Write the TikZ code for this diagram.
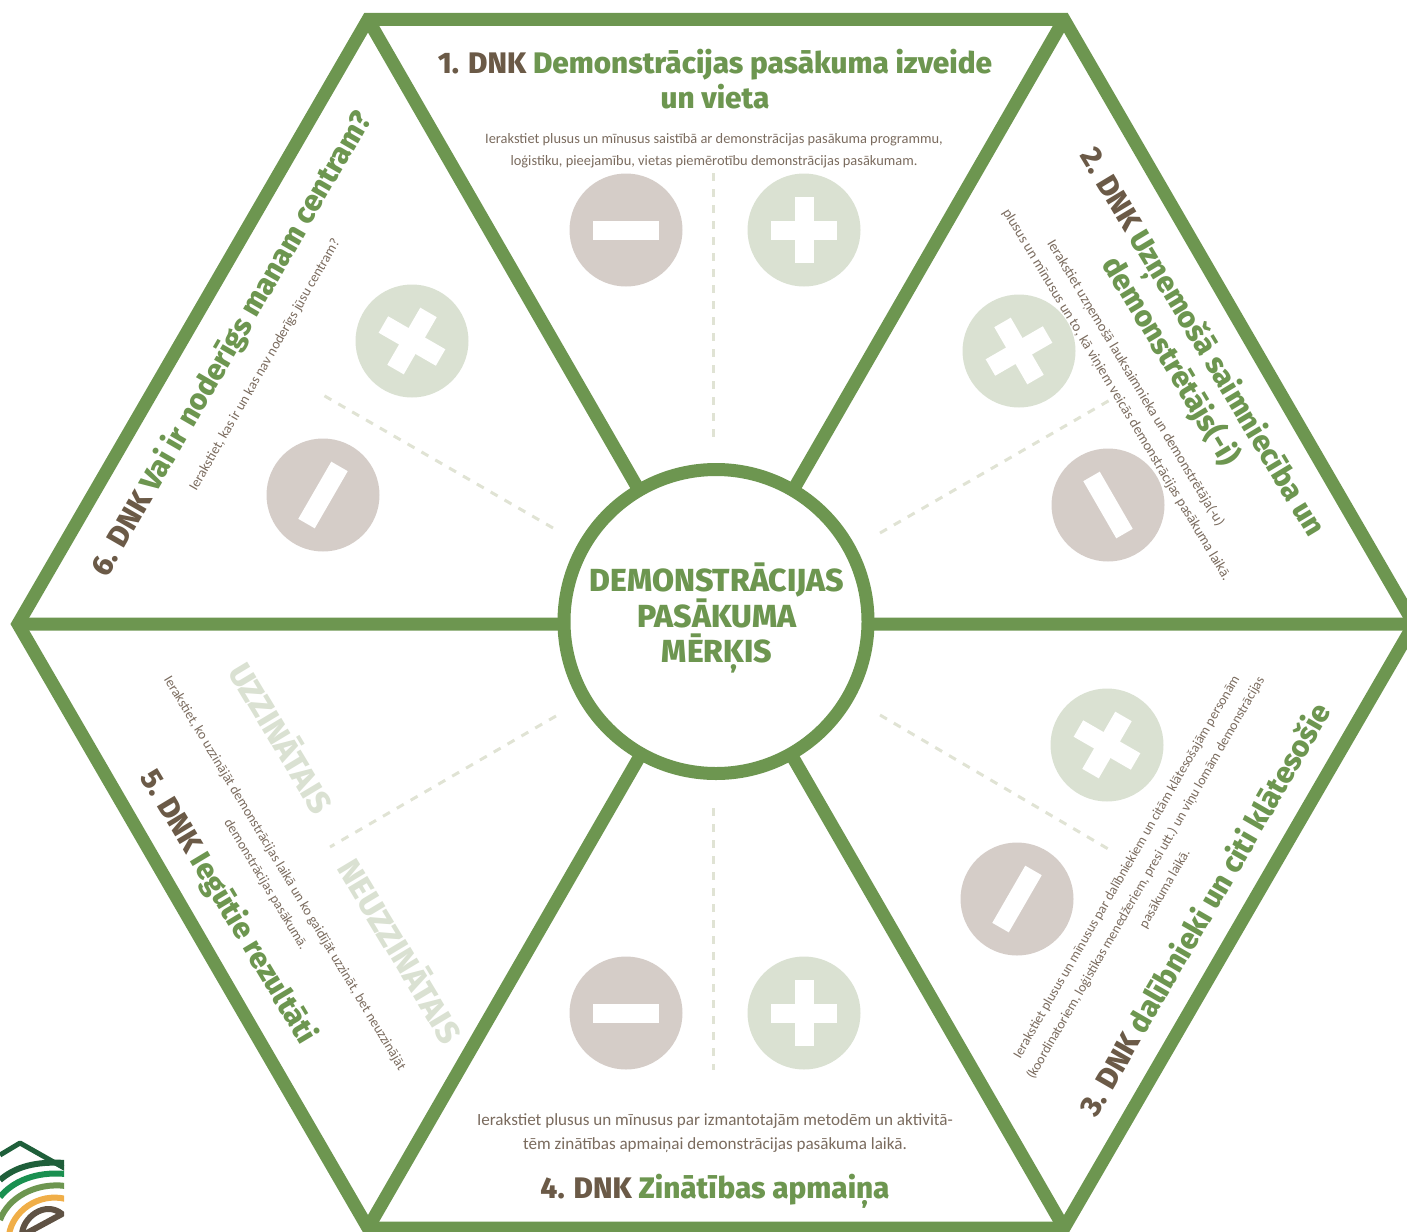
\documentclass[tikz,border=0pt]{standalone}
\usepackage{fontspec}
\setmainfont{Fira Sans}[BoldFont=Fira Sans ExtraBold]
\newfontfamily\bodyf{Carlito}
\definecolor{hexgreen}{HTML}{6D9650}
\definecolor{dnkbrown}{HTML}{6B5A47}
\definecolor{bodybrown}{HTML}{7A6B5E}
\definecolor{minusfill}{HTML}{D5CDC8}
\definecolor{plusfill}{HTML}{DAE1D2}
\definecolor{dashcol}{HTML}{E0E3D4}
\definecolor{logodark}{HTML}{1F5F3A}
\definecolor{logogreen}{HTML}{1A9050}
\definecolor{logoorange}{HTML}{F0AE48}
\definecolor{logobrown}{HTML}{5F5244}
\tikzset{
 x=1pt,y=-1pt,
 frame/.style={draw=hexgreen,line width=13pt,line join=miter,miter limit=10},
 hub/.style={circle,draw=hexgreen,line width=13pt,fill=white,minimum size=304pt,inner sep=0pt},
 divider/.style={draw=dashcol,line width=3pt,dash pattern=on 8pt off 8pt},
 minusdisc/.style={circle,fill=minusfill,minimum size=113pt,inner sep=0pt},
 plusdisc/.style={circle,fill=plusfill,minimum size=113pt,inner sep=0pt},
 barh/.style={fill=white,minimum width=66pt,minimum height=19pt,inner sep=0pt},
 barv/.style={fill=white,minimum width=19pt,minimum height=66pt,inner sep=0pt},
 ttl/.style={text=hexgreen,font=\fontsize{29.7}{35}\selectfont\bfseries,align=center,inner sep=0pt},
 hubtxt/.style={text=hexgreen,font=\fontsize{31.9}{35.5}\selectfont\bfseries,align=center,inner sep=0pt},
 bodytxt/.style={text=bodybrown,font=\bodyf\fontsize{14.4}{22}\selectfont,align=center,inner sep=0pt},
 ghost/.style={text=plusfill,font=\fontsize{32.5}{36}\selectfont\bfseries,inner sep=0pt},
 logoline/.style={line width=6pt,line join=round},
}
\newcommand{\dnk}[1]{\textcolor{dnkbrown}{#1}}
\begin{document}
\begin{tikzpicture}
\useasboundingbox (0,0) rectangle (1407,1231);
\clip (0,0) rectangle (1407,1231);
% hexagon
\coordinate (va) at (368,19.5);
\coordinate (vb) at (1064,19.5);
\coordinate (vc) at (1414,624);
\coordinate (vd) at (1064,1228);
\coordinate (ve) at (368,1228);
\coordinate (vf) at (18,624);
\coordinate (hubc) at (716,624);
\draw[frame] (va) -- (vb) -- (vc) -- (vd) -- (ve) -- (vf) -- cycle;
\draw[frame] (va) -- (hubc) (vb) -- (hubc) (vc) -- (hubc) (vd) -- (hubc) (ve) -- (hubc) (vf) -- (hubc);
\node[hub] (hub) at (716,621.5) {};
\node[hubtxt] (hubtext) at (717,618) {DEMONSTRĀCIJAS\\PASĀKUMA\\MĒRĶIS};
% dashed dividers
\coordinate (d1a) at (713,173); \coordinate (d1b) at (713,438);
\coordinate (d2a) at (880,533); \coordinate (d2b) at (1110,400);
\coordinate (d3a) at (880,715); \coordinate (d3b) at (1110,850);
\coordinate (d4a) at (713,808); \coordinate (d4b) at (713,1070);
\coordinate (d5a) at (556,716); \coordinate (d5b) at (330,847);
\coordinate (d6a) at (553,528); \coordinate (d6b) at (323,395);
\foreach \p/\q in {d1a/d1b,d2a/d2b,d3a/d3b,d4a/d4b,d5a/d5b,d6a/d6b} \draw[divider] (\p) -- (\q);
% discs
\foreach \n/\x/\y/\r in {m1/626/230/0,m2/1108/505/-60,m3/1017/899/60,m4/626/1013/0,m6/323/495/60}{
 \node[minusdisc] (\n) at (\x,\y) {};
 \node[barh,rotate=\r] (\n bar) at (\n) {};
}
\foreach \n/\x/\y/\r in {p1/804/230/0,p2/1019/351/-60,p3/1107/745/60,p4/804/1013/0,p6/412/341/60}{
 \node[plusdisc] (\n) at (\x,\y) {};
 \node[barh,rotate=\r] (\n h) at (\n) {};
 \node[barv,rotate=\r] (\n v) at (\n) {};
}
% titles
\node[ttl] (t1) at (715,79.5) {\dnk{1. DNK} Demonstrācijas pasākuma izveide\\un vieta};
\node[ttl,rotate=-59] (t2) at (1186,352) {\dnk{2. DNK} Uzņemošā saimniecība un\\demonstrētājs(-i)};
\node[ttl,rotate=60] (t3) at (1204,909) {\dnk{3. DNK} dalībnieki un citi klātesošie};
\node[ttl] (t4) at (715,1191) {\dnk{4. DNK} Zinātības apmaiņa};
\node[ttl,rotate=-59] (t5) at (228,907) {\dnk{5. DNK} Iegūtie rezultāti};
\node[ttl,rotate=60] (t6) at (232,344) {\dnk{6. DNK} Vai ir noderīgs manam centram?};
% body
\node[bodytxt] (b1) at (714,151) {Ierakstiet plusus un mīnusus saistībā ar demonstrācijas pasākuma programmu,\\loģistiku, pieejamību, vietas piemērotību demonstrācijas pasākumam.};
\node[bodytxt,rotate=-59] (b2) at (1126,389) {Ierakstiet uzņemošā lauksaimnieka un demonstrētāja(-u)\\plusus un mīnusus un to, kā viņiem veicās demonstrācijas pasākuma laikā.};
\node[bodytxt,rotate=60,font=\bodyf\fontsize{13.7}{22}\selectfont] (b3) at (1146,878) {Ierakstiet plusus un mīnusus par dalībniekiem un citām klātesošajām personām\\(koordinatoriem, loģistikas menedžeriem, presi utt.) un viņu lomām demonstrācijas\\pasākuma laikā.};
\node[bodytxt,font=\bodyf\fontsize{17.1}{24}\selectfont] (b4) at (715,1133.5) {Ierakstiet plusus un mīnusus par izmantotajām metodēm un aktivitā-\\tēm zinātības apmaiņai demonstrācijas pasākuma laikā.};
\node[bodytxt,rotate=-59,font=\bodyf\fontsize{13.9}{22}\selectfont] (b5) at (275,879) {Ierakstiet, ko uzzinājāt demonstrācijas laikā un ko gaidījāt uzzināt, bet neuzzinājāt\\demonstrācijas pasākumā.};
\node[bodytxt,rotate=60,font=\bodyf\fontsize{14}{22}\selectfont] (b6) at (265,365) {Ierakstiet, kas ir un kas nav noderīgs jūsu centram?};
\node[ghost,rotate=-59] (g1) at (283,737) {UZZINĀTAIS};
\node[ghost,rotate=-59] (g2) at (402,950) {NEUZZINĀTAIS};
% logo
\begin{scope}
\clip (0,1130) rectangle (64,1231);
\draw[logoline,line width=5pt,draw=logodark] (0,1155) -- (20,1143) -- (66,1169);
\draw[logoline,draw=logodark] (0,1180) .. controls (15,1167) and (35,1161) .. (66,1163);
\draw[logoline,draw=logogreen] (0,1197) .. controls (12,1182) and (35,1171) .. (66,1174);
\draw[logoline,draw=hexgreen] (0,1220) .. controls (8,1198) and (35,1182) .. (66,1186);
\draw[logoline,draw=logoorange] (9,1235) .. controls (12,1212) and (38,1192) .. (66,1199);
\draw[logoline,draw=logobrown] (22,1235) .. controls (22,1218) and (45,1200) .. (62,1214) -- (25,1234);
\end{scope}
\end{tikzpicture}
\end{document}
